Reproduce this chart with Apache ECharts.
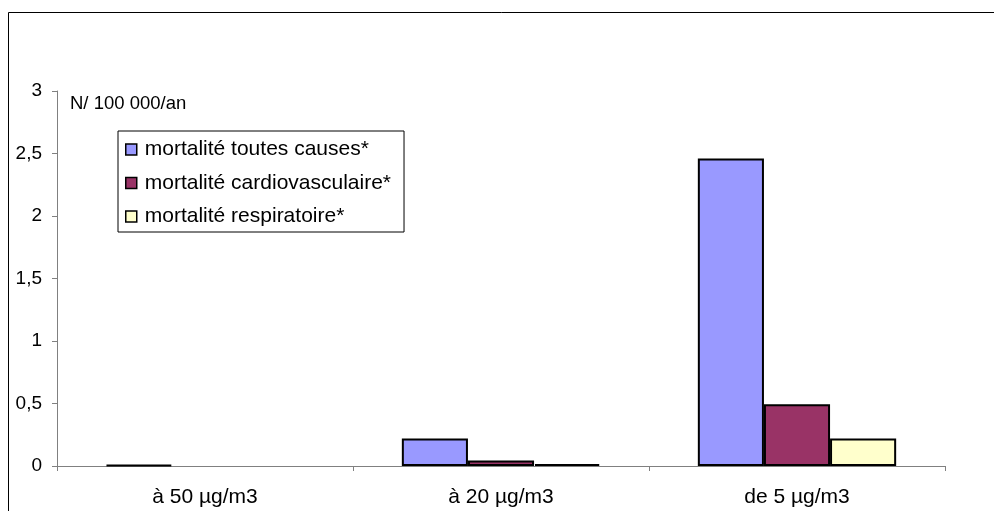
<!DOCTYPE html>
<html>
<head>
<meta charset="utf-8">
<script src="https://cdn.jsdelivr.net/npm/echarts@6/dist/echarts.min.js"></script>
<style>
html,body{margin:0;padding:0;background:#fff;}
#chart{width:994px;height:511px;}
</style>
</head>
<body>
<div id="chart"></div>
<script>
const categories = ['à 50 µg/m3', 'à 20 µg/m3', 'de 5 µg/m3'];
const seriesNames = ['mortalité toutes causes*', 'mortalité cardiovasculaire*', 'mortalité respiratoire*'];
const toutesCauses = [0.01, 0.22, 2.46];
const cardiovasculaire = [0, 0.045, 0.495];
const respiratoire = [0, 0.015, 0.22];
const colors = ['#9999FF', '#993366', '#FFFFCC'];
const yTicks = { min: 0, max: 3, interval: 0.5 };
const unitLabel = 'N/ 100 000/an';

const FONT = 'Liberation Sans, Arial, sans-serif';
const chart = echarts.init(document.getElementById('chart'));
const data = [toutesCauses, cardiovasculaire, respiratoire];

chart.setOption({
  animation: false,
  textStyle: { fontFamily: FONT },
  grid: { left: 57, right: 49, top: 91, bottom: 45 },
  graphic: [
    { type: 'rect', shape: { x: 8.5, y: 12.5, width: 1100, height: 600 },
      style: { fill: null, stroke: '#000', lineWidth: 1 }, silent: true },
    { type: 'text', left: 70, top: 94,
      style: { text: unitLabel, font: '18.5px ' + FONT, fill: '#000' } }
  ],
  legend: {
    orient: 'vertical',
    left: 118, top: 131,
    padding: [8, 13, 5, 7],
    borderColor: '#000', borderWidth: 1,
    itemWidth: 11, itemHeight: 11, itemGap: 12.5,
    icon: 'rect',
    textStyle: { fontSize: 21, color: '#000', fontFamily: FONT, padding: [0, 0, 0, 3] },
    itemStyle: { borderColor: '#000', borderWidth: 1.5 },
    data: seriesNames
  },
  xAxis: {
    type: 'category',
    data: categories,
    axisLine: { lineStyle: { color: '#808080', width: 1 } },
    axisTick: { show: true, length: 5, lineStyle: { color: '#808080' } },
    axisLabel: { color: '#000', fontSize: 21, margin: 21, fontFamily: FONT },
    splitLine: { show: false }
  },
  yAxis: {
    type: 'value',
    min: yTicks.min, max: yTicks.max, interval: yTicks.interval,
    axisLine: { show: true, lineStyle: { color: '#808080', width: 1 } },
    axisTick: { show: true, length: 5, lineStyle: { color: '#808080' } },
    axisLabel: { color: '#000', fontSize: 19, margin: 15, fontFamily: FONT,
      formatter: v => String(v).replace('.', ',') },
    splitLine: { show: false }
  },
  series: seriesNames.map((n, i) => ({
    name: n,
    type: 'bar',
    data: data[i].map(v => v === 0 ? { value: v, itemStyle: { borderWidth: 0 } } : v),
    barGap: '0%',
    barCategoryGap: '33%',
    itemStyle: { color: colors[i], borderColor: '#000', borderWidth: 2 }
  }))
});
</script>
</body>
</html>
